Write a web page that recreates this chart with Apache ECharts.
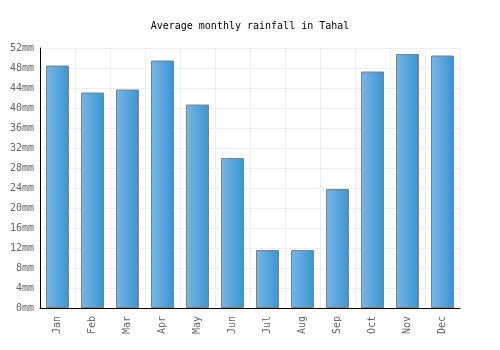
<!DOCTYPE html>
<html>
<head>
<meta charset="utf-8">
<script src="https://cdn.jsdelivr.net/npm/echarts@6/dist/echarts.min.js"></script>
<style>
	html, body { margin: 0; padding: 0; background: #fff; }
	#chart { width: 500px; height: 350px; }
</style>
</head>
<body>
<div id="chart"></div>
<script>
// 月份与降雨量（mm）
var months = ["Jan", "Feb", "Mar", "Apr", "May", "Jun", "Jul", "Aug", "Sep", "Oct", "Nov", "Dec"];
var rainfall = [48.5, 43.1, 43.7, 49.5, 40.7, 30, 11.6, 11.6, 23.8, 47.3, 50.8, 50.5];

var chart = echarts.init(document.getElementById("chart"));

var font = "DejaVu Sans Mono";

chart.setOption({
	animation: false,
	backgroundColor: "#fff",
	title: {
		text: "Average monthly rainfall in Tahal",
		left: "center",
		top: 16,
		textStyle: { fontFamily: font, fontSize: 10, fontWeight: "normal", color: "#000" }
	},
	grid: { left: 40, right: 40, top: 48, bottom: 42 },
	xAxis: {
		type: "category",
		data: months,
		axisLine: { lineStyle: { color: "#000", width: 1 } },
		axisTick: { show: false },
		axisLabel: { rotate: 90, color: "#666", fontFamily: font, fontSize: 10, margin: 8 },
		splitLine: { show: true, lineStyle: { color: "#eee" } }
	},
	yAxis: {
		type: "value",
		min: 0,
		max: 52,
		interval: 4,
		axisLine: { show: true, lineStyle: { color: "#000", width: 1 } },
		axisTick: { show: false },
		axisLabel: { formatter: "{value}mm", color: "#666", fontFamily: font, fontSize: 10, margin: 6 },
		splitLine: { lineStyle: { color: "#eee" } }
	},
	series: [{
		type: "bar",
		data: rainfall,
		barWidth: 23,
		itemStyle: {
			color: new echarts.graphic.LinearGradient(0, 0, 1, 0, [
				{ offset: 0, color: "#78b6ea" },
				{ offset: 1, color: "#3896cf" }
			]),
			borderColor: "#808080",
			borderWidth: 1
		}
	}]
});
</script>
</body>
</html>
